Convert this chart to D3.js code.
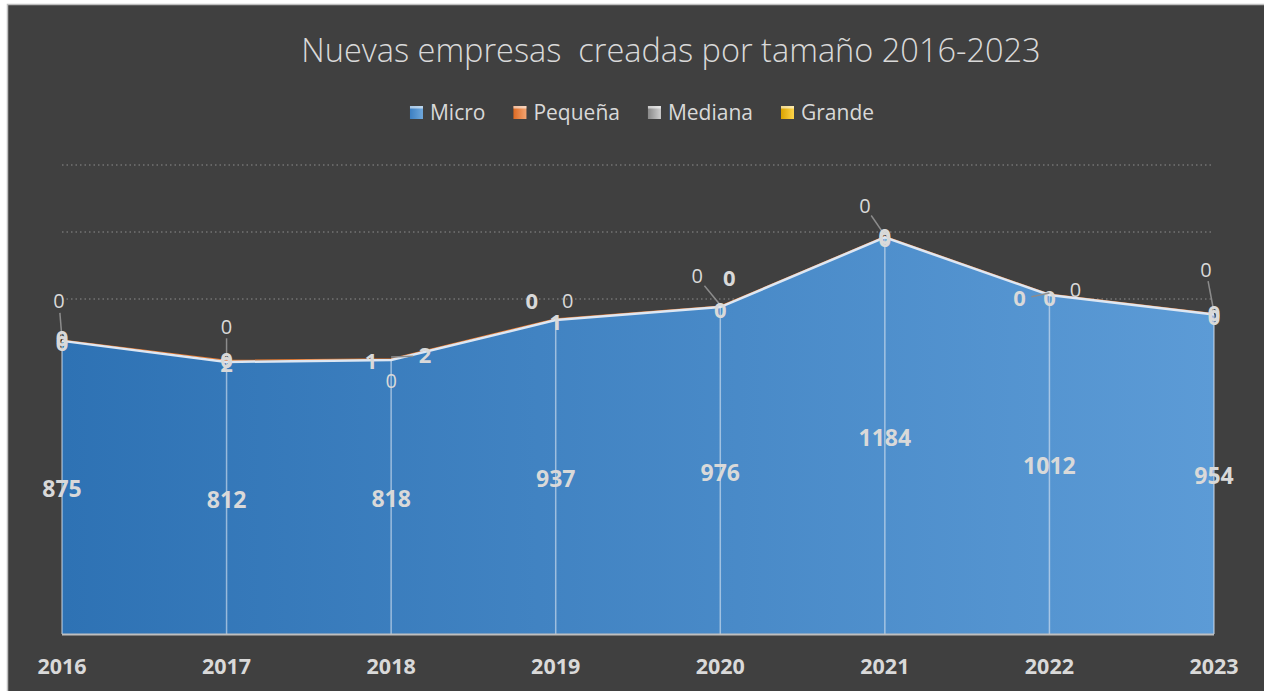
<!DOCTYPE html>
<html><head><meta charset="utf-8">
<script src="https://cdn.jsdelivr.net/npm/d3@7"></script>
<style>body{margin:0;background:#fff;overflow:hidden}</style>
</head><body>
<svg id="c" width="1264" height="691"></svg>
<script>
// ---- data ----
const years = ["2016","2017","2018","2019","2020","2021","2022","2023"];
const micro   = [875, 812, 818, 937, 976, 1184, 1012, 954];
const pequena = [0, 2, 1, 1, 0, 0, 0, 0];
const mediana = [0, 0, 0, 0, 0, 0, 0, 0];
const grande  = [0, 0, 2, 0, 0, 0, 0, 0];
const seriesNames = ["Micro", "Pequeña", "Mediana", "Grande"];
const yTicks = [0, 200, 400, 600, 800, 1000, 1200, 1400];
const titleText = "Nuevas empresas  creadas por tamaño 2016-2023";

// ---- label layout (offsets relative to stack top point) ----
const offPeq = [[0,2],[0,3],[-20,2],[0,2],[0,3],[0,2],[-30,3],[0,3]];
const offMed = [[-3,-40],[0,-35],[0,22],[12,-19],[-23,-31],[-20,-32],[26,-5],[-8,-45]];
const offGra = [[0,-3],[0,-1],[34,-4],[-24,-19],[9,-29],[0,-1],[0,3],[0,-1]];
const leadPeq = [0,0,0,0,0,0,1,0];
const leadMed = [1,1,0,0,1,1,0,1];
const leadGra = [0,0,1,0,0,0,0,0];

const svg = d3.select("#c");
const W = 1264, H = 691;
const txt = "#d9d9d9";
const FONT = "'Open Sans', 'Noto Sans', sans-serif";

svg.append("rect").attr("x",7.5).attr("y",4.5).attr("width",W).attr("height",H)
  .attr("fill","#404040").attr("stroke","#bfbfbf").attr("stroke-width",1.5);

const defs = svg.append("defs");
const g1 = defs.append("linearGradient").attr("id","gMicro").attr("gradientUnits","userSpaceOnUse")
  .attr("x1",62).attr("x2",1214).attr("y1",0).attr("y2",0);
g1.append("stop").attr("offset","0%").attr("stop-color","#2e72b4");
g1.append("stop").attr("offset","100%").attr("stop-color","#5c9bd6");
const legCols = [["#6fa8dc","#3c7fc2"],["#f4a572","#dd6a23"],["#d0d0d0","#888888"],["#ffd54a","#d9a300"]];
legCols.forEach((c,i)=>{
  const lg = defs.append("linearGradient").attr("id","lg"+i).attr("x1",0).attr("x2",1).attr("y1",0).attr("y2",0);
  lg.append("stop").attr("offset","0%").attr("stop-color",c[1]);
  lg.append("stop").attr("offset","100%").attr("stop-color",c[0]);
});

const x = d3.scalePoint().domain(years).range([62, 1214]);
const y = d3.scaleLinear().domain([0, 1400]).range([634, 165]);

// gridlines
svg.append("g").selectAll("line").data(yTicks.filter(d=>d>0)).join("line")
  .attr("x1",62).attr("x2",1214).attr("y1",d=>y(d)).attr("y2",d=>y(d))
  .attr("stroke","#8c8c8c").attr("stroke-width",1.2).attr("stroke-dasharray","1.5,3");

// stack
const rows = years.map((yr,i)=>({year:yr, Micro:micro[i], "Pequeña":pequena[i], Mediana:mediana[i], Grande:grande[i]}));
const stack = d3.stack().keys(seriesNames)(rows);
const fills = ["url(#gMicro)","#ed7d31","#a5a5a5","#ffc000"];
const area = d3.area().x(d=>x(d.data.year)).y0(d=>y(d[0])).y1(d=>y(d[1]));
svg.append("g").selectAll("path").data(stack).join("path")
  .attr("d",area).attr("fill",(d,i)=>fills[i]);

// drop lines
const topVal = stack[stack.length-1];
svg.append("g").selectAll("line").data(topVal).join("line")
  .attr("x1",d=>x(d.data.year)).attr("x2",d=>x(d.data.year))
  .attr("y1",d=>y(d[1])).attr("y2",y(0))
  .attr("stroke","#dce6f2").attr("stroke-opacity",0.6).attr("stroke-width",1.5);

// top lines
const line = d3.line().x(d=>x(d.data.year)).y(d=>y(d[1]));
svg.append("path").datum(stack[1]).attr("d",line).attr("fill","none")
  .attr("stroke","#ed7d31").attr("stroke-width",1.2).attr("transform","translate(0,-0.9)");
svg.append("path").datum(stack[0]).attr("d",line).attr("fill","none")
  .attr("stroke","#dde7f3").attr("stroke-width",2.5);

// axis line
svg.append("line").attr("x1",62).attr("x2",1214).attr("y1",y(0)+0.5).attr("y2",y(0)+0.5)
  .attr("stroke","#bfbfbf").attr("stroke-width",2);

// x labels
svg.append("g").selectAll("text").data(years).join("text")
  .attr("x",d=>x(d)).attr("y",674).attr("text-anchor","middle")
  .attr("font-family",FONT).attr("font-weight",700).attr("font-size",21.5)
  .attr("fill",txt).text(d=>d);

// micro labels
svg.append("g").selectAll("text").data(stack[0]).join("text")
  .attr("x",d=>x(d.data.year)).attr("y",d=>(y(d[0])+y(d[1]))/2+10).attr("text-anchor","middle")
  .attr("font-family",FONT).attr("font-weight",700).attr("font-size",23)
  .attr("fill",txt).text(d=>d.data.Micro);

// small-series labels
function smallLabels(key, offs, leads, bold){
  const gg = svg.append("g");
  topVal.forEach((d,i)=>{
    const px = x(d.data.year), py = y(d[1]);
    const lx = px + offs[i][0], ly = py + offs[i][1];
    if (leads[i]) {
      const dx = px-lx, dy = py-ly, L = Math.hypot(dx,dy);
      const s = 12/L;
      gg.append("line").attr("x1",lx+dx*s).attr("y1",ly+dy*s).attr("x2",px).attr("y2",py-2)
        .attr("stroke","#8c8c8c").attr("stroke-width",1.5);
    }
    gg.append("text").attr("x",lx).attr("y",ly).attr("dy","0.36em").attr("text-anchor","middle")
      .attr("font-family",FONT).attr("font-weight",bold?700:400).attr("font-size",bold?22:20)
      .attr("fill",txt).text(d.data[key]);
  });
}
smallLabels("Mediana", offMed, leadMed, false);
smallLabels("Grande", offGra, leadGra, true);
smallLabels("Pequeña", offPeq, leadPeq, true);

// title
svg.append("text").attr("x",671).attr("y",62).attr("text-anchor","middle")
  .attr("xml:space","preserve").style("white-space","pre")
  .attr("font-family",FONT).attr("font-weight",300).attr("font-size",32.5)
  .attr("fill",txt).text(titleText);

// legend
const leg = svg.append("g");
let cx = 0;
seriesNames.forEach((n,i)=>{
  const it = leg.append("g").attr("transform",`translate(${cx},0)`);
  it.append("rect").attr("x",0).attr("y",106).attr("width",13).attr("height",13).attr("fill",`url(#lg${i})`);
  it.append("rect").attr("x",0).attr("y",106).attr("width",13).attr("height",2.5).attr("fill","#ffffff").attr("opacity",0.55);
  const t = it.append("text").attr("x",20).attr("y",120).attr("font-family",FONT).attr("font-size",21)
    .attr("fill",txt).text(n);
  cx += 20 + t.node().getComputedTextLength() + 28;
});
const legW = cx - 28;
leg.attr("transform",`translate(${642 - legW/2},0)`);
</script>
</body></html>
